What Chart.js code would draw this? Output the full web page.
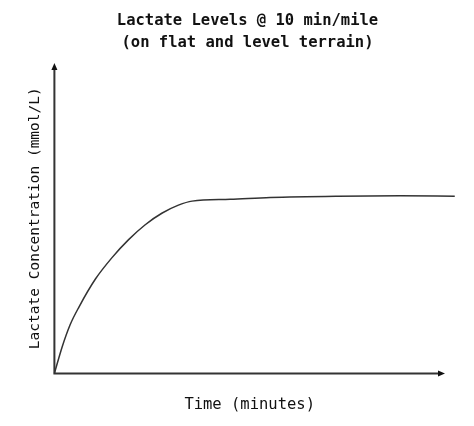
<!DOCTYPE html>
<html>
<head>
<meta charset="utf-8">
<script src="https://cdn.jsdelivr.net/npm/chart.js@4/dist/chart.umd.min.js"></script>
<style>
  html, body { margin: 0; padding: 0; background: #fff; }
  #wrap { width: 474px; height: 426px; }
</style>
</head>
<body>
<div id="wrap"><canvas id="lactate-chart" width="474" height="426"></canvas></div>
<script>
// (minutes vs. relative lactate level)
const timeMinutes = [0, 0.8, 1.6, 2.5, 4.2, 5.9, 7.6, 9.3, 11.0, 12.7, 14.1, 18.0, 22.1, 29.0, 35.4, 41.0];
const lactateLevel = [0, 8.6, 15.6, 21.3, 30.4, 37.3, 43.1, 47.9, 51.6, 54.2, 55.5, 56.1, 56.7, 57.1, 57.2, 57.1];
const titleLines = ['Lactate Levels @ 10 min/mile', '(on flat and level terrain)'];
const xTitle = 'Time (minutes)';
const yTitle = 'Lactate Concentration (mmol/L)';

const MONO = '"DejaVu Sans Mono", "Liberation Mono", monospace';
const INK = '#333';

// --- Title (drawn a little right of canvas centre, like the original) ---
const centredTitle = {
    id: 'centredTitle',
    afterDraw(chart) {
        const ctx = chart.ctx;
        ctx.save();
        ctx.fillStyle = '#111';
        ctx.font = 'bold 15.5px ' + MONO;
        ctx.textAlign = 'center';
        ctx.textBaseline = 'middle';
        titleLines.forEach((line, i) => {
            ctx.fillText(line, 247.5, 21 + i * 22);
        });
        ctx.restore();
    }
};

// --- Axis arrows ---
const arrowAxes = {
    id: 'arrowAxes',
    afterDatasetsDraw(chart) {
        const { ctx, chartArea: a } = chart;
        ctx.save();
        ctx.strokeStyle = INK;
        ctx.fillStyle = '#111';
        ctx.lineWidth = 2;
        ctx.beginPath();
        ctx.moveTo(a.left, a.top + 4);
        ctx.lineTo(a.left, a.bottom);
        ctx.lineTo(a.right - 4, a.bottom);
        ctx.stroke();
        // up arrow
        ctx.beginPath();
        ctx.moveTo(a.left, a.top);
        ctx.lineTo(a.left - 3, a.top + 7);
        ctx.lineTo(a.left + 3, a.top + 7);
        ctx.closePath();
        ctx.fill();
        // right arrow
        ctx.beginPath();
        ctx.moveTo(a.right, a.bottom);
        ctx.lineTo(a.right - 7, a.bottom - 3);
        ctx.lineTo(a.right - 7, a.bottom + 3);
        ctx.closePath();
        ctx.fill();
        ctx.restore();
    }
};

new Chart(document.getElementById('lactate-chart'), {
    type: 'line',
    data: {
        datasets: [{
            data: timeMinutes.map((t, i) => ({ x: t, y: lactateLevel[i] })),
            borderColor: INK,
            borderWidth: 1.5,
            pointRadius: 0,
            fill: false,
            cubicInterpolationMode: 'monotone',
            clip: false
        }]
    },
    options: {
        responsive: false,
        animation: false,
        layout: { padding: { left: 27, right: 29, top: 63, bottom: 12 } },
        plugins: {
            legend: { display: false },
            tooltip: { enabled: false },
            title: { display: false }
        },
        scales: {
            x: {
                type: 'linear',
                min: 0,
                max: 40,
                grid: { display: false },
                border: { display: false },
                ticks: { display: false },
                title: {
                    display: true,
                    text: xTitle,
                    color: '#111',
                    font: { family: MONO, size: 15.5 },
                    padding: { top: 14, bottom: 0 }
                }
            },
            y: {
                min: 0,
                max: 100,
                grid: { display: false },
                border: { display: false },
                ticks: { display: false },
                title: {
                    display: true,
                    text: yTitle,
                    color: '#111',
                    font: { family: MONO, size: 14.5 },
                    padding: { top: 0, bottom: 2 }
                }
            }
        }
    },
    plugins: [arrowAxes, centredTitle]
});
</script>
</body>
</html>
